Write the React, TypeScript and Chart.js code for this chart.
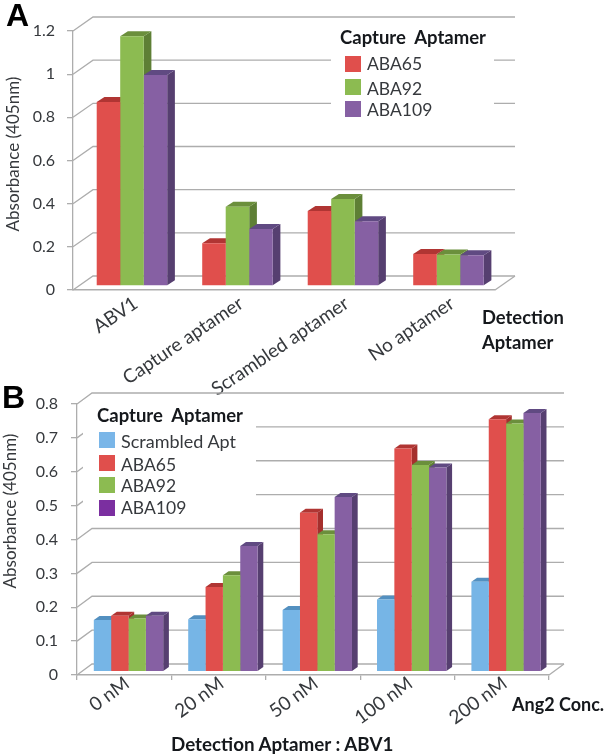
import React, { useEffect, useRef } from "react";
import { Chart, registerables } from "chart.js";

Chart.register(...registerables);

// ---------- data ----------
const catsA = ["ABV1", "Capture aptamer", "Scrambled aptamer", "No aptamer"];
const aba65A = [0.852, 0.198, 0.347, 0.148];
const aba92A = [1.157, 0.367, 0.403, 0.146];
const aba109A = [0.978, 0.264, 0.3, 0.143];

const catsB = ["0 nM", "20 nM", "50 nM", "100 nM", "200 nM"];
const scrambledB = [0.1525, 0.155, 0.182, 0.2135, 0.2655];
const aba65B = [0.165, 0.25, 0.469, 0.659, 0.745];
const aba92B = [0.157, 0.285, 0.406, 0.61, 0.733];
const aba109B = [0.165, 0.371, 0.516, 0.603, 0.764];

const seriesA = [
  { label: "ABA65", data: aba65A },
  { label: "ABA92", data: aba92A },
  { label: "ABA109", data: aba109A },
];
const seriesB = [
  { label: "Scrambled Apt", data: scrambledB },
  { label: "ABA65", data: aba65B },
  { label: "ABA92", data: aba92B },
  { label: "ABA109", data: aba109B },
];

// ---------- colours ----------
const BLUE = { front: "#76B5E6", top: "#5390C0", side: "#4A7FAA" };
const RED = { front: "#E04F4C", top: "#B03533", side: "#A52F2D" };
const GREEN = { front: "#8CBB51", top: "#6B8F3C", side: "#5E7F35" };
const PURPLE = { front: "#8660A3", top: "#604A82", side: "#563F70" };
const GRID = "#ADADAD";
const TEXT = "#36393d";
const SANS = "Lato";

function make3d(v: any) {
  return {
    id: "threeD",
    beforeDatasetsDraw(chart: any) {
      const { ctx, chartArea: a, scales } = chart;
      ctx.save();
      ctx.strokeStyle = GRID;
      ctx.lineWidth = 1.3;
      for (const t of scales.y.ticks) {
        const y = scales.y.getPixelForValue(t.value);
        ctx.beginPath();
        ctx.moveTo(a.left, y);
        ctx.lineTo(a.left + v.wallDx, y + v.wallDy);
        ctx.lineTo(a.right + v.wallDx, y + v.wallDy);
        ctx.stroke();
      }
      // right edge of the floor
      ctx.beginPath();
      ctx.moveTo(a.right, a.bottom);
      ctx.lineTo(a.right + v.wallDx, a.bottom + v.wallDy);
      ctx.stroke();
      // white plate under the legend
      ctx.fillStyle = "#fff";
      ctx.fillRect(v.plate[0], v.plate[1], v.plate[2], v.plate[3]);
      ctx.restore();

      ctx.save();
      ctx.translate(v.barDx, v.barDy);
      const metas = chart.getSortedVisibleDatasetMetas();
      const n = metas[0].data.length;
      for (let i = 0; i < n; i++) {
        metas.forEach((m: any, k: number) => {
          const el = m.data[i];
          const c = v.colors[k];
          const l = el.x - el.width / 2;
          const r = el.x + el.width / 2;
          const t = el.y;
          const b = el.base;
          const dx = v.depthDx;
          const dy = v.depthDy;
          ctx.fillStyle = c.side;
          ctx.beginPath();
          ctx.moveTo(r, t);
          ctx.lineTo(r + dx, t + dy);
          ctx.lineTo(r + dx, b + dy);
          ctx.lineTo(r, b);
          ctx.closePath();
          ctx.fill();
          ctx.fillStyle = c.top;
          ctx.beginPath();
          ctx.moveTo(l, t);
          ctx.lineTo(l + dx, t + dy);
          ctx.lineTo(r + dx, t + dy);
          ctx.lineTo(r, t);
          ctx.closePath();
          ctx.fill();
        });
      }
      // stays translated while the library draws the front faces
    },
    afterDatasetsDraw(chart: any) {
      chart.ctx.restore();
    },
  };
}

function build(canvas: HTMLCanvasElement, cats: string[], series: any[], v: any) {
  return new Chart(canvas, {
    type: "bar",
    data: {
      labels: cats,
      datasets: series.map((s, i) => ({
        label: s.label,
        data: s.data,
        backgroundColor: v.colors[i].front,
        borderWidth: 0,
        barPercentage: 1,
        categoryPercentage: v.catPct,
      })),
    },
    options: {
      responsive: false,
      animation: false,
      layout: {
        autoPadding: false,
        padding: { left: 0, top: v.top, right: v.width - v.right, bottom: 0 },
      },
      plugins: { legend: { display: false }, title: { display: false }, tooltip: { enabled: false } },
      scales: {
        x: {
          afterFit(s: any) {
            s.height = v.height - v.bottom;
          },
          grid: {
            display: v.xTicks,
            drawOnChartArea: false,
            tickLength: 5,
            color: GRID,
            lineWidth: 1.3,
            offset: true,
          },
          border: { display: true, color: GRID, width: 1.6 },
          ticks: {
            autoSkip: false,
            minRotation: v.rot,
            maxRotation: v.rot,
            labelOffset: v.labelOffset,
            padding: v.xPad,
            color: TEXT,
            font: { family: SANS, size: v.xFont },
          },
        },
        y: {
          min: 0,
          max: v.max,
          afterFit(s: any) {
            s.width = v.left;
          },
          grid: { drawOnChartArea: false, tickLength: 6, color: GRID, lineWidth: 1.3 },
          border: { display: true, color: GRID, width: 1.3 },
          ticks: {
            stepSize: v.step,
            padding: v.yPad,
            color: TEXT,
            font: { family: SANS, size: 16 },
            callback: (val: any) => String(Math.round(Number(val) * 10) / 10),
          },
        },
      },
    } as any,
    plugins: [make3d(v)],
  });
}

const viewA = {
  width: 605, height: 420, left: 73, right: 495, top: 31, bottom: 290, max: 1.2, step: 0.2,
  wallDx: 20, wallDy: -14, barDx: 6.2, barDy: -4, depthDx: 7.7, depthDy: -5, catPct: 0.668,
  plate: [331, 50, 163, 70], colors: [RED, GREEN, PURPLE], xTicks: false, labelOffset: 10, xPad: -3, yPad: 12, xFont: 19, rot: 34,
};
const viewB = {
  width: 605, height: 374, left: 77, right: 549, top: 24, bottom: 295, max: 0.8, step: 0.1,
  wallDx: 15, wallDy: -11, barDx: 4.3, barDy: -3.3, depthDx: 5.7, depthDy: -4, catPct: 0.735,
  plate: [83, 20, 173, 115], colors: [BLUE, RED, GREEN, PURPLE], xTicks: true, labelOffset: 3, xPad: -8, yPad: 13, xFont: 19, rot: 36,
};

const abs = (x: number, y: number, size: number, bold: boolean, extra: any = {}): React.CSSProperties => ({
  position: "absolute",
  left: x,
  top: y,
  fontFamily: SANS,
  fontSize: size,
  fontWeight: bold ? 700 : 400,
  color: bold ? "#15181c" : TEXT,
  lineHeight: "20px",
  whiteSpace: "nowrap",
  ...extra,
});

const swatch = (x: number, y: number, color: string): React.CSSProperties => ({
  position: "absolute",
  left: x,
  top: y,
  width: 15.5,
  height: 15.5,
  background: color,
});

const yTitle = (cx: number, cy: number): React.CSSProperties => ({
  ...abs(cx, cy - 10, 17, false),
  transform: "translateX(-50%) rotate(-90deg)",
});

export default function App() {
  const a = useRef<HTMLCanvasElement>(null);
  const b = useRef<HTMLCanvasElement>(null);
  useEffect(() => {
    const ca = build(a.current!, catsA, seriesA, viewA);
    const cb = build(b.current!, catsB, seriesB, viewB);
    return () => {
      ca.destroy();
      cb.destroy();
    };
  }, []);
  return (
    <div style={{ position: "absolute", left: 0, top: 0, width: 605, height: 754, overflow: "hidden", background: "#fff" }}>
      <canvas ref={a} width={605} height={420} style={{ position: "absolute", left: 0, top: 0 }} />
      <canvas ref={b} width={605} height={374} style={{ position: "absolute", left: 0, top: 380 }} />

      <div style={{ ...abs(6, 0, 32, true), fontFamily: "Liberation Sans", color: "#000", lineHeight: "30px" }}>A</div>
      <div style={{ ...abs(2, 382, 32, true), fontFamily: "Liberation Sans", color: "#000", lineHeight: "30px" }}>B</div>

      <div style={yTitle(13, 154)}>Absorbance (405nm)</div>
      <div style={yTitle(10, 511)}>Absorbance (405nm)</div>

      <div style={abs(340, 27, 18.5, true)}>Capture&nbsp; Aptamer</div>
      <div style={swatch(345, 56, RED.front)} />
      <div style={swatch(345, 79, GREEN.front)} />
      <div style={swatch(345, 101, PURPLE.front)} />
      <div style={abs(367, 54, 17.5, false)}>ABA65</div>
      <div style={abs(367, 79, 17.5, false)}>ABA92</div>
      <div style={abs(367, 100, 17.5, false)}>ABA109</div>

      <div style={abs(482, 307, 18.4, true)}>Detection</div>
      <div style={abs(482, 332, 18.4, true)}>Aptamer</div>

      <div style={abs(97, 405, 18.5, true)}>Capture&nbsp; Aptamer</div>
      <div style={swatch(99, 432, "#7AB6E8")} />
      <div style={swatch(99, 455, RED.front)} />
      <div style={swatch(99, 477, GREEN.front)} />
      <div style={swatch(99, 500, "#7B2FA0")} />
      <div style={abs(121, 431, 18, false)}>Scrambled Apt</div>
      <div style={abs(121, 455, 17.5, false)}>ABA65</div>
      <div style={abs(121, 476, 17.5, false)}>ABA92</div>
      <div style={abs(121, 498, 17.5, false)}>ABA109</div>

      <div style={abs(512, 694, 18, true)}>Ang2 Conc.</div>
      <div style={abs(171, 734, 18.8, true)}>Detection Aptamer : ABV1</div>
    </div>
  );
}
